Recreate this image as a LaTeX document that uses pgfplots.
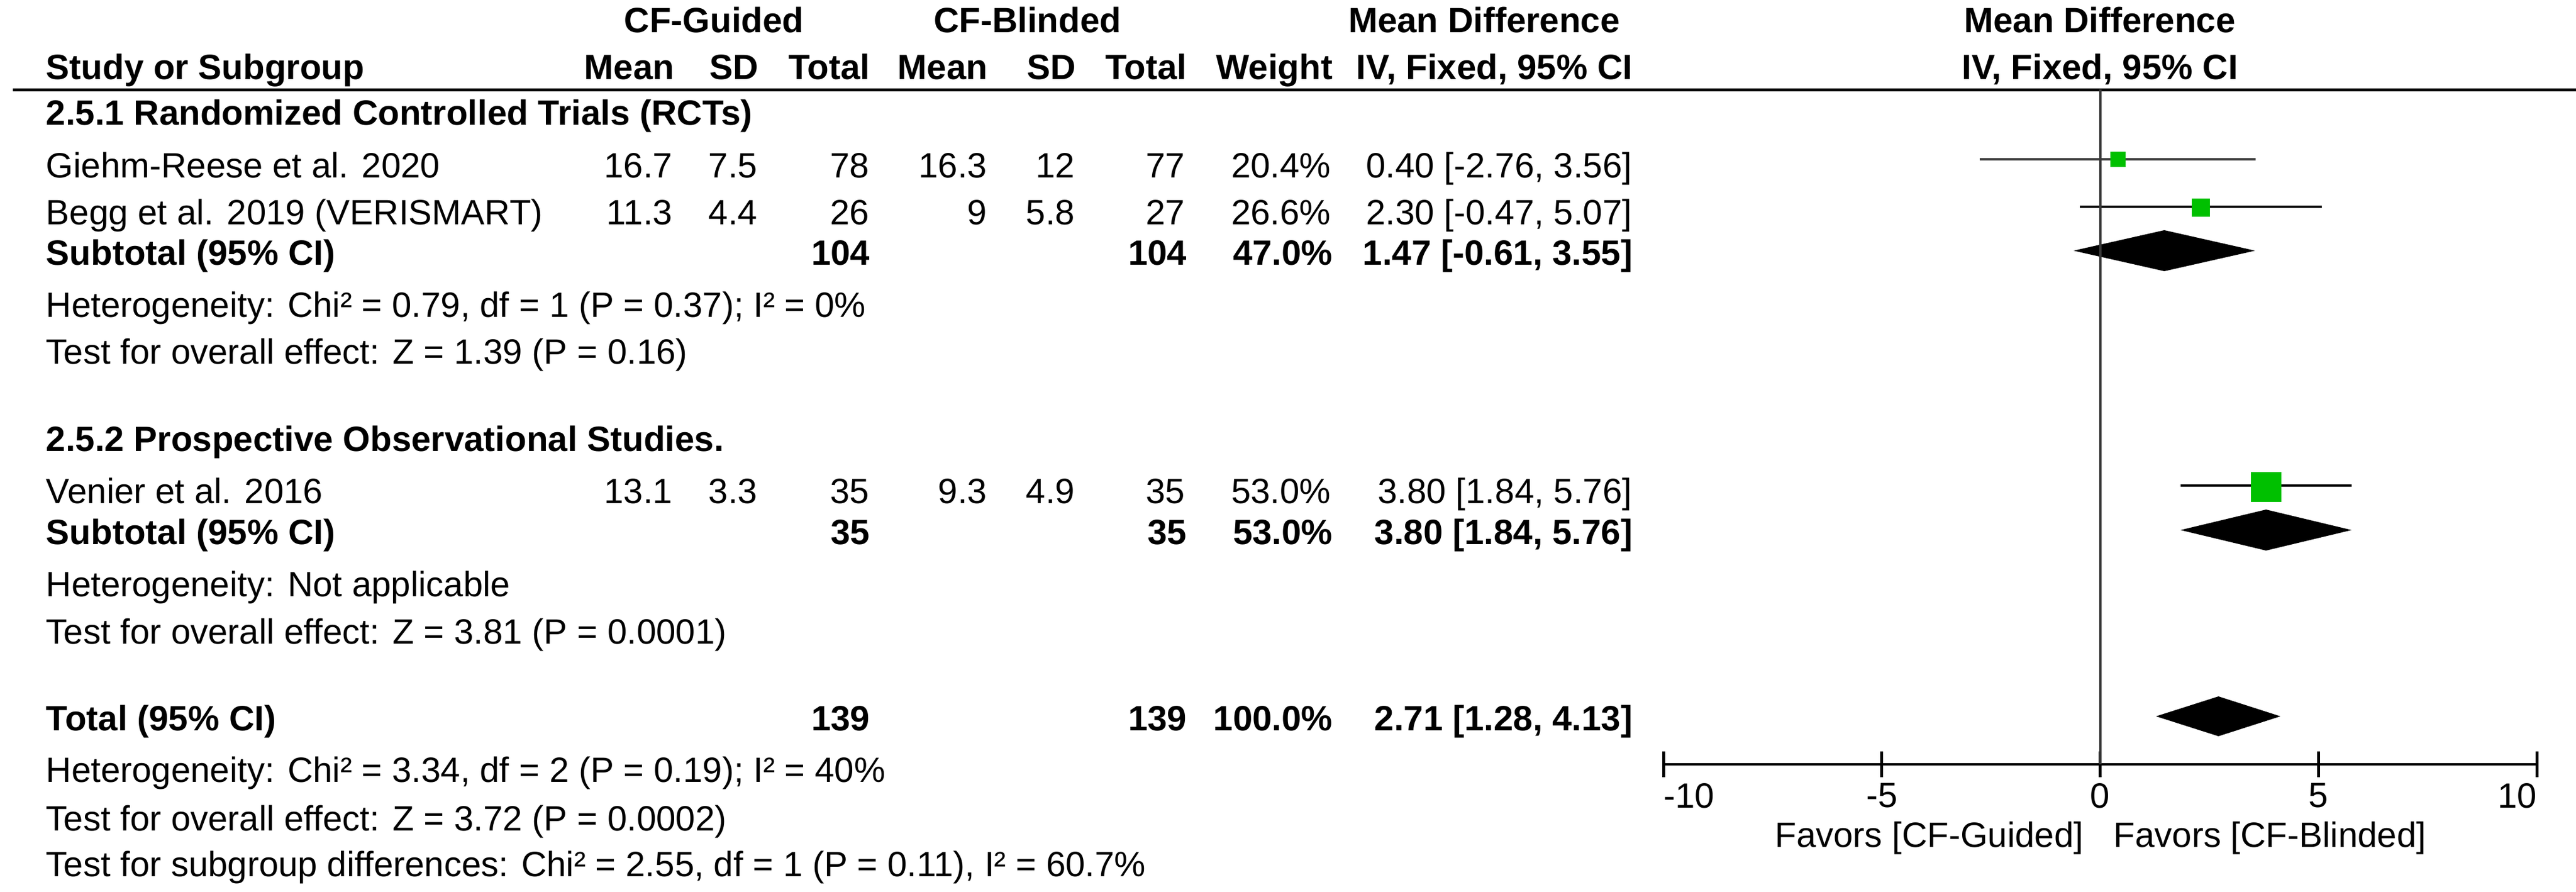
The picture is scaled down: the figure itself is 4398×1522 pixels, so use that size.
\documentclass[border=0pt]{standalone}
\usepackage{fontspec}
\setmainfont{Liberation Sans}
\usepackage{pgfplots}
\pgfplotsset{compat=1.18}
\definecolor{mkgreen}{RGB}{0,192,0}
\newcommand\fs{\fontsize{15}{18}\selectfont}
\tikzset{
  L/.style={anchor=base west,inner sep=0pt,font=\fs},
  R/.style={anchor=base east,inner sep=0pt,font=\fs},
  C/.style={anchor=base,inner sep=0pt,font=\fs},
  LB/.style={anchor=base west,inner sep=0pt,font=\fs\bfseries},
  RB/.style={anchor=base east,inner sep=0pt,font=\fs\bfseries},
  CB/.style={anchor=base,inner sep=0pt,font=\fs\bfseries},
}
\begin{document}
\begin{tikzpicture}[x=0.25pt,y=-0.25pt]
\path[use as bounding box] (0,0) rectangle (4398,1522);
% header row 1
\node[CB] at (1219,55) {CF-Guided};
\node[CB] at (1754,55) {CF-Blinded};
\node[CB] at (2534,55) {Mean Difference};
\node[CB] at (3585,55) {Mean Difference};
% header row 2
\node[LB] at (78,135) {Study or Subgroup};
\node[RB] at (1152,135) {Mean};
\node[RB] at (1296,135) {SD};
\node[RB] at (1486,135) {Total};
\node[RB] at (1687,135) {Mean};
\node[RB] at (1838,135) {SD};
\node[RB] at (2027,135) {Total};
\node[RB] at (2276,135) {Weight};
\node[RB] at (2788,135) {IV, Fixed, 95\% CI};
\node[CB] at (3585,135) {IV, Fixed, 95\% CI};
\draw[line width=1.25pt] (22,153) -- (4398,153);
% group 1
\node[LB] at (78,213) {2.5.1 Randomized Controlled Trials (RCTs)};
\node[L] at (78,303) {Giehm-Reese et al. 2020};
\node[R] at (1149,303) {16.7};
\node[R] at (1294,303) {7.5};
\node[R] at (1485,303) {78};
\node[R] at (1686,303) {16.3};
\node[R] at (1836,303) {12};
\node[R] at (2024,303) {77};
\node[R] at (2273,303) {20.4\%};
\node[R] at (2787,303) {0.40 [-2.76, 3.56]};
\node[L] at (78,383) {Begg et al. 2019 (VERISMART)};
\node[R] at (1149,383) {11.3};
\node[R] at (1294,383) {4.4};
\node[R] at (1485,383) {26};
\node[R] at (1686,383) {9};
\node[R] at (1836,383) {5.8};
\node[R] at (2024,383) {27};
\node[R] at (2273,383) {26.6\%};
\node[R] at (2787,383) {2.30 [-0.47, 5.07]};
\node[LB] at (78,452) {Subtotal (95\% CI)};
\node[RB] at (1486,452) {104};
\node[RB] at (2027,452) {104};
\node[RB] at (2276,452) {47.0\%};
\node[RB] at (2788,452) {1.47 [-0.61, 3.55]};
\node[L] at (78,541) {Heterogeneity: Chi² = 0.79, df = 1 (P = 0.37); I² = 0\%};
\node[L] at (78,621) {Test for overall effect: Z = 1.39 (P = 0.16)};
% group 2
\node[LB] at (78,770) {2.5.2 Prospective Observational Studies.};
\node[L] at (78,859) {Venier et al. 2016};
\node[R] at (1149,859) {13.1};
\node[R] at (1294,859) {3.3};
\node[R] at (1485,859) {35};
\node[R] at (1686,859) {9.3};
\node[R] at (1836,859) {4.9};
\node[R] at (2024,859) {35};
\node[R] at (2273,859) {53.0\%};
\node[R] at (2787,859) {3.80 [1.84, 5.76]};
\node[LB] at (78,929) {Subtotal (95\% CI)};
\node[RB] at (1486,929) {35};
\node[RB] at (2027,929) {35};
\node[RB] at (2276,929) {53.0\%};
\node[RB] at (2788,929) {3.80 [1.84, 5.76]};
\node[L] at (78,1018) {Heterogeneity: Not applicable};
\node[L] at (78,1099) {Test for overall effect: Z = 3.81 (P = 0.0001)};
% total
\node[LB] at (78,1247) {Total (95\% CI)};
\node[RB] at (1486,1247) {139};
\node[RB] at (2027,1247) {139};
\node[RB] at (2276,1247) {100.0\%};
\node[RB] at (2788,1247) {2.71 [1.28, 4.13]};
\node[L] at (78,1335) {Heterogeneity: Chi² = 3.34, df = 2 (P = 0.19); I² = 40\%};
\node[L] at (78,1418) {Test for overall effect: Z = 3.72 (P = 0.0002)};
\node[L] at (78,1496) {Test for subgroup differences: Chi² = 2.55, df = 1 (P = 0.11), I² = 60.7\%};
% favours labels
\node[R] at (3558,1446) {Favors [CF-Guided]};
\node[L] at (3608,1446) {Favors [CF-Blinded]};
% forest plot axis
\coordinate (A) at (2840,153);
\begin{axis}[
  at={(A)}, anchor=north west,
  scale only axis, width=372.75pt, height=288pt,
  xmin=-10, xmax=10, ymin=-1305, ymax=-153,
  axis x line*=bottom, axis y line=none,
  x axis line style={line width=1pt,-},
  xtick={-10,-5,0,5,10},
  xticklabels={\rlap{-10},-5,0,5,\llap{10}},
  tick align=center, major tick length=11pt,
  every tick/.style={line width=1.25pt,black},
  xticklabel style={font=\fs, yshift=1pt},
  clip=false,
]
% confidence intervals
\addplot[line width=1pt, black!78, no marks] coordinates {(-2.76,-272) (3.56,-272)};
\addplot[line width=1pt, black, no marks] coordinates {(-0.47,-353) (5.07,-353)};
\addplot[line width=1pt, black, no marks] coordinates {(1.84,-829) (5.76,-829)};
% study squares
\addplot[only marks, mark=square*, mark size=3.125pt, mark options={fill=mkgreen, draw=mkgreen, line width=0.1pt}] coordinates {(0.40,-272)};
\addplot[only marks, mark=square*, mark size=3.75pt, mark options={fill=mkgreen, draw=mkgreen, line width=0.1pt}] coordinates {(2.30,-354)};
\addplot[only marks, mark=square*, mark size=6.3pt, mark options={fill=mkgreen, draw=mkgreen, line width=0.1pt}] coordinates {(3.80,-831)};
% diamonds
\addplot[fill=black, draw=none, no marks] coordinates {(-0.61,-428) (1.47,-393) (3.55,-428) (1.47,-463)} -- cycle;
\addplot[fill=black, draw=none, no marks] coordinates {(1.84,-905) (3.80,-870) (5.76,-905) (3.80,-940)} -- cycle;
\addplot[fill=black, draw=none, no marks] coordinates {(1.28,-1223) (2.71,-1189) (4.13,-1223) (2.71,-1257)} -- cycle;
% line of no effect
\addplot[line width=1pt, black!78, no marks] coordinates {(0,-153) (0,-1305)};
\end{axis}
\end{tikzpicture}
\end{document}
